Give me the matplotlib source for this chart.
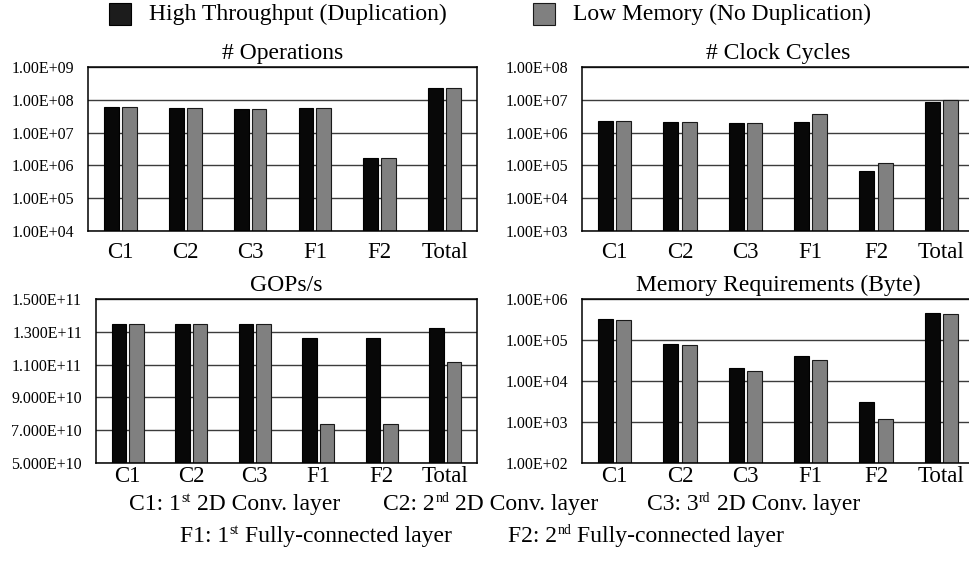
import matplotlib
matplotlib.use("Agg")
import matplotlib.pyplot as plt
import matplotlib.ticker as mticker
from matplotlib.transforms import IdentityTransform
import numpy as np

plt.rcParams["font.family"] = "Liberation Serif"

layers = ["C1", "C2", "C3", "F1", "F2", "Total"]

ops_dup = [6.0e7, 5.7e7, 5.2e7, 5.6e7, 1.72e6, 2.22e8]
ops_nodup = [6.0e7, 5.7e7, 5.2e7, 5.6e7, 1.72e6, 2.22e8]

cycles_dup = [2.28e6, 2.17e6, 1.93e6, 2.17e6, 6.9e4, 8.4e6]
cycles_nodup = [2.28e6, 2.17e6, 1.93e6, 3.73e6, 1.18e5, 1.02e7]

gops_dup = [1.347e11, 1.347e11, 1.347e11, 1.261e11, 1.261e11, 1.324e11]
gops_nodup = [1.347e11, 1.347e11, 1.347e11, 7.37e10, 7.39e10, 1.114e11]

mem_dup = [3.21e5, 8.13e4, 2.08e4, 4.1e4, 3.03e3, 4.67e5]
mem_nodup = [3.09e5, 7.54e4, 1.79e4, 3.27e4, 1.16e3, 4.42e5]

BLACK = "#080808"
GRAY = "#808080"
FW, FH = 970, 562


def px_axes(fig, x0, y0, x1, y1):
    # pixel box (top-left origin) -> figure fraction
    return fig.add_axes([x0 / FW, 1 - y1 / FH, (x1 - x0) / FW, (y1 - y0) / FH])


def draw_panel(ax, title, a, b, log=True, ylim=None, ticks=None, fmt=None, xpad=8):
    x = np.arange(len(layers))
    w = 0.23
    off = 0.138
    if log:
        ax.bar(x - off, a, w, color=BLACK, edgecolor="black", linewidth=0.8, zorder=3)
        ax.bar(x + off, b, w, color=GRAY, edgecolor="#1a1a1a", linewidth=0.8, zorder=3)
        ax.set_yscale("log")
    else:
        base = ylim[0]
        ax.bar(x - off, np.array(a) - base, w, bottom=base, color=BLACK,
               edgecolor="black", linewidth=0.8, zorder=3)
        ax.bar(x + off, np.array(b) - base, w, bottom=base, color=GRAY,
               edgecolor="#1a1a1a", linewidth=0.8, zorder=3)
    ax.set_ylim(*ylim)
    ax.set_xlim(-0.5, len(layers) - 0.5)
    ax.set_yticks(ticks)
    ax.yaxis.set_minor_locator(mticker.NullLocator())
    ax.set_yticklabels([fmt(t) for t in ticks])
    ax.set_xticks(x)
    ax.set_xticklabels(layers, fontsize=16.5)
    ax.tick_params(axis="both", length=0)
    ax.tick_params(axis="y", labelsize=11.5, pad=10)
    ax.tick_params(axis="x", pad=xpad)
    ax.grid(axis="y", color="#3c3c3c", linewidth=1.0, zorder=1)
    for s in ax.spines.values():
        s.set_color("black")
        s.set_linewidth(1.1)
        s.set_zorder(4)
    ax.set_title(title, fontsize=17, pad=6)


def sci2(v):
    m, e = f"{v:.2E}".split("E")
    return f"{m}E+{int(e):02d}"


def sci3(v):
    m, e = f"{v:.3E}".split("E")
    return f"{m}E+{int(e):02d}"


fig = plt.figure(figsize=(FW / 100, FH / 100), dpi=100)

ax1 = px_axes(fig, 88, 67, 477, 231)
draw_panel(ax1, "# Operations", ops_dup, ops_nodup, ylim=(1e4, 1e9),
           ticks=[1e4, 1e5, 1e6, 1e7, 1e8, 1e9], fmt=sci2)

ax2 = px_axes(fig, 582, 67, 974, 231)
draw_panel(ax2, "# Clock Cycles", cycles_dup, cycles_nodup, ylim=(1e3, 1e8),
           ticks=[1e3, 1e4, 1e5, 1e6, 1e7, 1e8], fmt=sci2)

ax3 = px_axes(fig, 96, 299, 477, 463)
draw_panel(ax3, "GOPs/s", gops_dup, gops_nodup, log=False, ylim=(5e10, 1.5e11),
           ticks=[5e10, 7e10, 9e10, 1.1e11, 1.3e11, 1.5e11], fmt=sci3, xpad=2)

ax4 = px_axes(fig, 582, 299, 974, 463)
draw_panel(ax4, "Memory Requirements (Byte)", mem_dup, mem_nodup, ylim=(1e2, 1e6),
           ticks=[1e2, 1e3, 1e4, 1e5, 1e6], fmt=sci2, xpad=2)

# legend squares and labels along the top
fig.patches.append(plt.Rectangle((109 / FW, 1 - 25 / FH), 22 / FW, 22 / FH,
                                 transform=fig.transFigure, facecolor="#1c1c1c",
                                 edgecolor="black", linewidth=0.8))
fig.text(149 / FW, 1 - 14 / FH, "High Throughput (Duplication)", fontsize=17, va="center")
fig.patches.append(plt.Rectangle((533 / FW, 1 - 25 / FH), 22 / FW, 22 / FH,
                                 transform=fig.transFigure, facecolor=GRAY,
                                 edgecolor="#1a1a1a", linewidth=0.8))
fig.text(573 / FW, 1 - 14 / FH, "Low Memory (No Duplication)", fontsize=17, va="center")

renderer = fig.canvas.get_renderer()


def key_item(x_left, y_base, head, sup, tail, size=17):
    # "head" + raised small "sup" + space + "tail", laid out in pixels
    y = FH - y_base
    t1 = fig.text(x_left, y, head, fontsize=size, va="baseline", ha="left",
                  transform=IdentityTransform())
    x = t1.get_window_extent(renderer).x1 + 0.5
    t2 = fig.text(x, y + 8, sup, fontsize=size * 0.58, va="baseline", ha="left",
                  transform=IdentityTransform())
    x = t2.get_window_extent(renderer).x1 + size * 100 / 72 * 0.25
    fig.text(x, y, tail, fontsize=size, va="baseline", ha="left",
             transform=IdentityTransform())


# layer key under the panels
key_item(129, 510, "C1: 1", "st", "2D Conv. layer")
key_item(383, 510, "C2: 2", "nd", "2D Conv. layer")
key_item(647, 510, "C3: 3", "rd", "2D Conv. layer")
key_item(180, 542, "F1: 1", "st", "Fully-connected layer")
key_item(508, 542, "F2: 2", "nd", "Fully-connected layer")

fig.savefig("out.png", dpi=100)
